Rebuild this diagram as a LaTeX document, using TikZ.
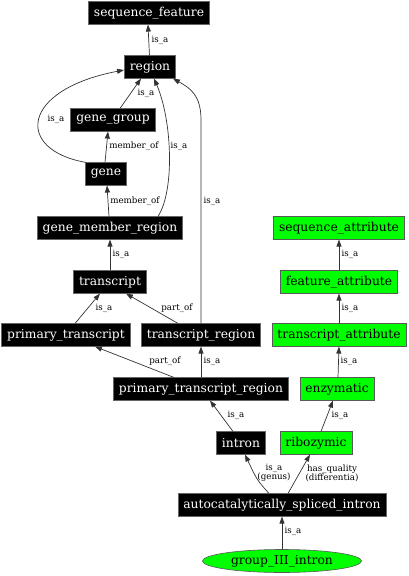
\documentclass[tikz,border=0pt]{standalone}
\usepackage{fontspec}
\setmainfont{DejaVu Serif}
\usetikzlibrary{arrows.meta,shapes.geometric}
\begin{document}
\begin{tikzpicture}[x=1pt,y=-1pt,
  blk/.style={draw=black!60, fill=black, text=white, font=\fontsize{12.3}{14}\selectfont,
    inner xsep=5.5pt, inner ysep=0pt, minimum height=22.5pt, line width=0.6pt},
  grn/.style={blk, draw=black!65, fill=green, text=black},
  oval/.style={ellipse, draw=black!65, fill=green, text=black, font=\fontsize{12.3}{14}\selectfont,
    minimum width=159pt, minimum height=23pt, inner sep=0pt, line width=0.6pt},
  edge/.style={draw=black!80, line width=0.7pt, -{Triangle[length=7pt,width=5pt]}},
  lbl/.style={font=\fontsize{8.7}{9}\selectfont, inner sep=0pt, align=center}]
\useasboundingbox (0,0) rectangle (409,576);

% nodes
\node[blk] (sequence_feature) at (149,13) {sequence\_feature};
\node[blk] (region) at (150,67) {region};
\node[blk] (gene_group) at (113,120) {gene\_group};
\node[blk] (gene) at (106,174) {gene};
\node[blk] (gene_member_region) at (110,228) {gene\_member\_region};
\node[blk] (transcript) at (110,282) {transcript};
\node[blk] (primary_transcript) at (66,335) {primary\_transcript};
\node[blk] (transcript_region) at (201,335) {transcript\_region};
\node[blk] (primary_transcript_region) at (201,389) {primary\_transcript\_region};
\node[blk] (intron) at (241,443) {intron};
\node[blk] (asi) at (282,505) {autocatalytically\_spliced\_intron};
\node[oval] (group_III_intron) at (282,561) {group\_III\_intron};
\node[grn] (sequence_attribute) at (339,228) {sequence\_attribute};
\node[grn] (feature_attribute) at (339,282) {feature\_attribute};
\node[grn] (transcript_attribute) at (339,335) {transcript\_attribute};
\node[grn] (enzymatic) at (337,389) {enzymatic};
\node[grn] (ribozymic) at (316,443) {ribozymic};

% edges
\draw[edge] (region) -- ([xshift=-1pt]sequence_feature.south);
\draw[edge] ([xshift=7pt]gene_group.north) -- ([xshift=-9pt]region.south);
\draw[edge] ([xshift=1pt]gene.north west) .. controls (15,150) and (20,90) .. ([yshift=-3pt]region.west);
\draw[edge] ([xshift=-1pt]gene.north) -- ([xshift=-5pt]gene_group.south);
\draw[edge] ([xshift=-1pt]gene_member_region.north) -- ([xshift=1pt]gene.south);
\draw[edge] ([xshift=48pt]gene_member_region.north) .. controls (175,190) and (172,120) .. ([xshift=4pt]region.south);
\draw[edge] (transcript) -- (gene_member_region);
\coordinate (trbend) at (201,120);
\draw[edge] (transcript_region.north) -- (trbend) .. controls (201,95) and (190,88) .. ([xshift=-3pt]region.south east);
\draw[edge] ([xshift=9pt]primary_transcript.north) -- ([xshift=-10pt]transcript.south);
\draw[edge] ([xshift=-23pt]transcript_region.north) -- ([xshift=16pt]transcript.south);
\draw[edge] ([xshift=-27pt]primary_transcript_region.north) -- ([xshift=29pt]primary_transcript.south);
\draw[edge] (primary_transcript_region) -- (transcript_region);
\draw[edge] ([xshift=-8pt]intron.north) -- ([xshift=9pt]primary_transcript_region.south);
\draw[edge] ([xshift=-13pt]asi.north) .. controls (257,480) .. ([xshift=4pt]intron.south);
\draw[edge] ([xshift=6pt]asi.north) -- ([xshift=-6pt]ribozymic.south);
\draw[edge] (group_III_intron) -- (asi);
\draw[edge] ([xshift=5pt]ribozymic.north) -- ([xshift=-4pt]enzymatic.south);
\draw[edge] ([xshift=1pt]enzymatic.north) -- (transcript_attribute.south);
\draw[edge] (transcript_attribute) -- (feature_attribute);
\draw[edge] (feature_attribute) -- (sequence_attribute);

% edge labels
\node[lbl] (l1) at (160,40) {is\_a};
\node[lbl] (l2) at (146,93) {is\_a};
\node[lbl] (l3) at (56,119) {is\_a};
\node[lbl] (l4) at (134,146) {member\_of};
\node[lbl] (l5) at (135,201) {member\_of};
\node[lbl] (l6) at (179,146) {is\_a};
\node[lbl] (l7) at (121,254) {is\_a};
\node[lbl] (l8) at (212,201) {is\_a};
\node[lbl] (l9) at (104,308) {is\_a};
\node[lbl] (l10) at (177,308) {part\_of};
\node[lbl] (l11) at (165,361) {part\_of};
\node[lbl] (l12) at (212,361) {is\_a};
\node[lbl] (l13) at (236,415) {is\_a};
\node[lbl] (l14) at (274,473) {is\_a\\(genus)};
\node[lbl] (l15) at (332,473) {has\_quality\\(differentia)};
\node[lbl] (l16) at (293,531) {is\_a};
\node[lbl] (l17) at (340,415) {is\_a};
\node[lbl] (l18) at (349,361) {is\_a};
\node[lbl] (l19) at (350,308) {is\_a};
\node[lbl] (l20) at (350,254) {is\_a};
\end{tikzpicture}
\end{document}
